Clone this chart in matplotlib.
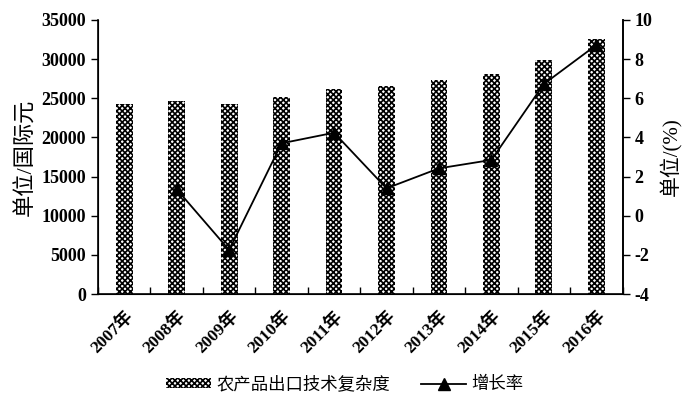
import matplotlib
matplotlib.use("Agg")
import matplotlib.pyplot as plt
import numpy as np
from matplotlib.patches import Patch
from matplotlib.lines import Line2D

plt.rcParams['font.family'] = ['Liberation Serif', 'Noto Sans CJK SC']
plt.rcParams['font.weight'] = 'bold'
plt.rcParams['hatch.linewidth'] = 1.2
plt.rcParams['axes.unicode_minus'] = False

years = ['2007年', '2008年', '2009年', '2010年', '2011年', '2012年', '2013年', '2014年', '2015年', '2016年']
complexity = [24270, 24650, 24230, 25120, 26190, 26570, 27280, 28100, 29890, 32530]
growth_years = years[1:]
growth = [1.35, -1.75, 3.70, 4.24, 1.40, 2.42, 2.85, 6.73, 8.72]

fig = plt.figure(figsize=(6.83, 3.99), dpi=100)
ax = fig.add_axes([0.1435, 0.263, 0.768, 0.687])
x = np.arange(len(years))
ax.bar(x, complexity, width=0.32, facecolor='white', edgecolor='black', hatch='xxxxxx', linewidth=0)
ax.set_xlim(-0.5, len(years) - 0.5)
ax.set_ylim(0, 35000)
ax.set_yticks(np.arange(0, 35001, 5000))
ax.set_xticks(x)
ax.set_xticklabels(years, rotation=45, ha='right', rotation_mode='anchor', fontweight='bold', fontsize=12.5)
ax.set_xticks(np.arange(-0.5, len(years), 1), minor=True)
ax.tick_params(axis='x', which='major', length=0, pad=10)
ax.tick_params(axis='x', which='minor', direction='in', length=5, width=1)
ax.tick_params(axis='y', direction='out', length=5, width=1, labelsize=13)
ax.spines['top'].set_visible(False)
for s in ['left', 'right', 'bottom']:
    ax.spines[s].set_linewidth(1.2)
ax.set_ylabel('单位/国际元', fontsize=16, labelpad=4, fontweight='normal')

ax2 = ax.twinx()
gx = [years.index(y) for y in growth_years]
ax2.plot(gx, growth, color='black', marker='^', markersize=8, linewidth=1.3)
ax2.set_ylim(-4, 10)
ax2.set_yticks(np.arange(-4, 11, 2))
ax2.tick_params(axis='y', direction='out', length=5, width=1, labelsize=13)
ax2.spines['top'].set_visible(False)
ax2.spines['right'].set_linewidth(1.2)
ax2.set_ylabel('单位/(%)', fontsize=15, labelpad=6, fontweight='normal')

handles = [Patch(facecolor='white', edgecolor='black', hatch='xxxxxx', linewidth=0),
           Line2D([0], [0], color='black', marker='^', markersize=8, linewidth=1.3)]
fig.legend(handles, ['农产品出口技术复杂度', '增长率'], loc='center', bbox_to_anchor=(0.505, 0.035),
           ncol=2, frameon=False, prop={'size': 12.5, 'weight': 'normal'},
           handlelength=2.6, handleheight=0.5, columnspacing=1.8, handletextpad=0.3)

fig.savefig('out.png', dpi=100)
